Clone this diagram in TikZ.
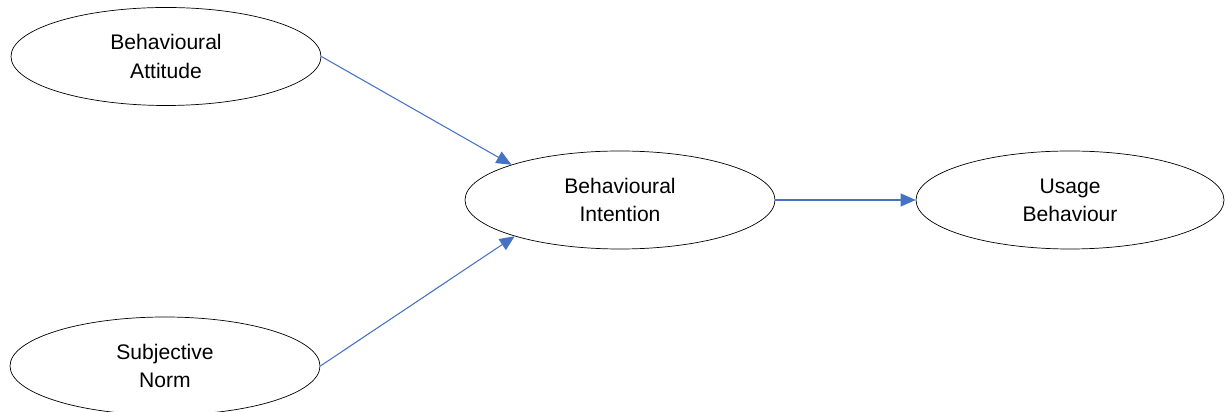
\documentclass[tikz,border=0pt]{standalone}
\usepackage{fontspec}
\setmainfont{Liberation Sans}
\usepackage{tikz}
\usetikzlibrary{positioning,arrows.meta,shapes.geometric}
\usepackage{xcolor}
\definecolor{linkblue}{RGB}{68,114,196}

\begin{document}
\begin{tikzpicture}[
  construct/.style={ellipse,draw=black,thin,fill=white,inner sep=0pt,
              minimum width=6.2cm,minimum height=1.96cm,align=center,
              font=\fontsize{12}{16}\selectfont},
  arr/.style={-{Triangle[length=0.3cm,width=0.26cm]},linkblue,semithick}
]
\useasboundingbox (0,0) rectangle (24.52,-8.24);
\begin{scope}
\clip (0,0) rectangle (24.52,-8.24);
\node[construct] (attitude) at (3.32,-1.13) {Behavioural\\Attitude};
\node[construct] (norm) at (3.30,-7.32) {Subjective\\Norm};
\node[construct] (intention) at (12.40,-4.00) {Behavioural\\Intention};
\node[construct,minimum width=6.16cm] (usage) at (21.40,-4.00) {Usage\\Behaviour};
\draw[arr] (attitude.east) -- (intention.162.6);
\draw[arr] (norm.east) -- (intention.-161.4);
\draw[arr] (intention.east) -- (usage.west);
\end{scope}
\end{tikzpicture}
\end{document}
